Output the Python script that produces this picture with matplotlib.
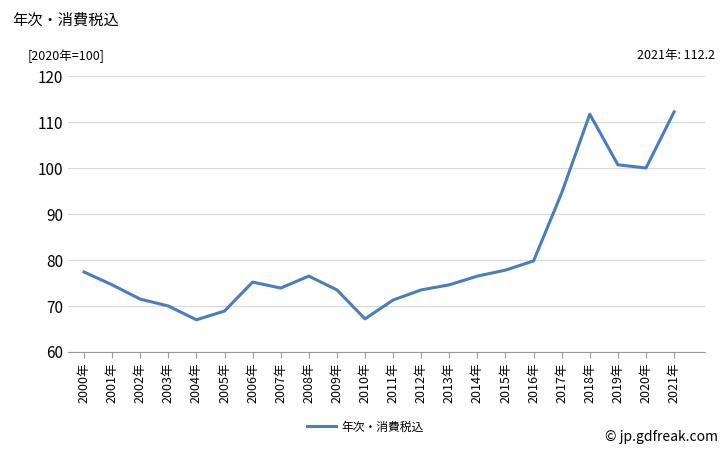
import matplotlib
matplotlib.use("Agg")
import matplotlib.pyplot as plt

years = [f"{y}年" for y in range(2000, 2022)]
values = [77.4, 74.6, 71.5, 70.0, 67.0, 68.9, 75.2, 73.9, 76.5, 73.5, 67.2,
          71.3, 73.5, 74.6, 76.5, 77.8, 79.8, 94.6, 111.7, 100.7, 100.0, 112.2]
yticks = [60, 70, 80, 90, 100, 110, 120]

plt.rcParams["font.family"] = ["Noto Sans CJK JP"]
fig = plt.figure(figsize=(7.28, 4.5), dpi=100)
ax = fig.add_axes([68/728, 1-352/450, (705-68)/728, (352-76)/450])
x = range(len(years))
ax.plot(x, values, color="#4a7ebb", lw=2.2, label="年次・消費税込")
ax.set_xlim(-0.57, 22.1)
ax.set_ylim(60, 120)
ax.set_yticks(yticks)
ax.set_xticks(list(x))
ax.set_xticklabels(years, rotation=90, fontsize=9)
ax.tick_params(axis="y", labelsize=11, length=0)
ax.tick_params(axis="x", length=4, color="#999999")
ax.grid(axis="y", color="#d9d9d9", lw=0.8)
for s in ["top", "right"]:
    ax.spines[s].set_visible(False)
ax.spines["left"].set_visible(False)
ax.spines["bottom"].set_color("#999999")
fig.text(12/728, 1-20/450, "年次・消費税込", fontsize=11, va="center")
fig.text(28/728, 1-56/450, "[2020年=100]", fontsize=9, va="center")
fig.text(715/728, 1-56/450, "2021年: 112.2", fontsize=9, va="center", ha="right")
fig.text(718/728, 1-437/450, "© jp.gdfreak.com", fontsize=10, va="center", ha="right")
fig.legend(loc="center", bbox_to_anchor=(365/728, 1-427/450), frameon=False, fontsize=8.5,
           handlelength=2.5, handletextpad=0.4)
fig.savefig("out.png", dpi=100)
